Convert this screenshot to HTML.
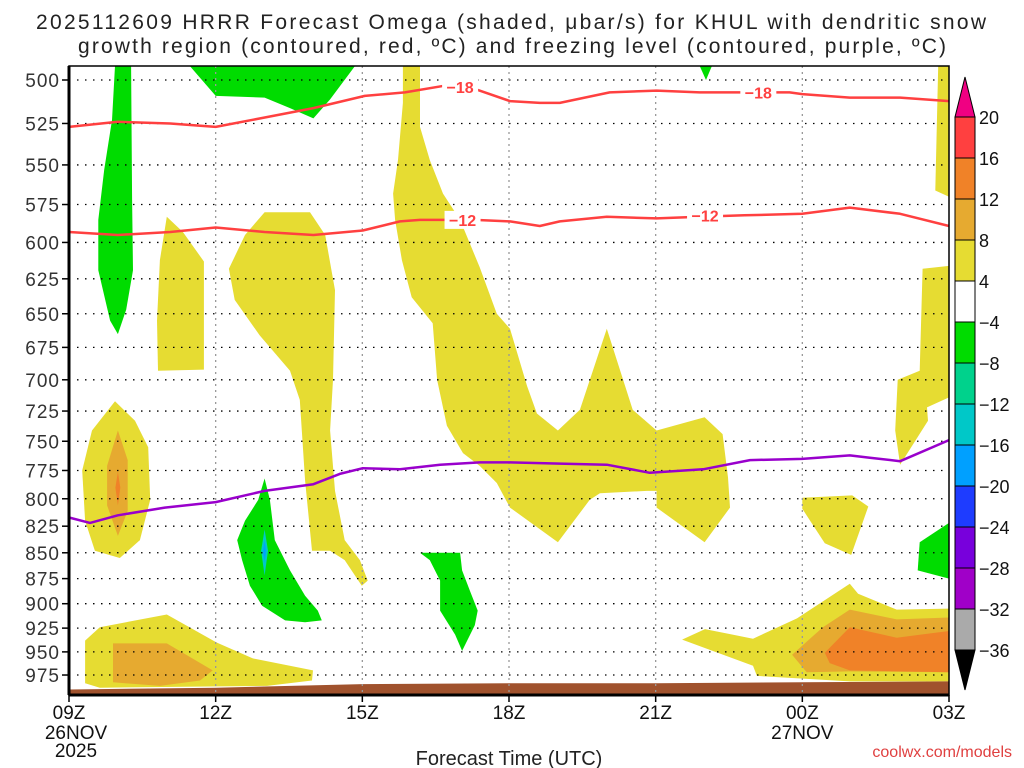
<!DOCTYPE html>
<html><head><meta charset="utf-8"><style>
html,body{margin:0;padding:0;background:#fff;width:1024px;height:768px;overflow:hidden}
svg{display:block;font-family:"Liberation Sans","DejaVu Sans",sans-serif}
</style></head><body>
<svg id="chart" width="1024" height="768" viewBox="0 0 1024 768">
<g>
<text x="36" y="29" font-size="21" textLength="950" fill="#222">2025112609 HRRR Forecast Omega (shaded, μbar/s) for KHUL with dendritic snow</text>
<text x="78" y="53" font-size="21" textLength="868" fill="#222">growth region (contoured, red, ºC) and freezing level (contoured, purple, ºC)</text>
</g>
<g id="fills"></g>
<g id="grid"></g>
<g id="lines"></g>
<g id="axes"></g>
<g id="cbar"></g>
<text x="509" y="765" font-size="20" text-anchor="middle" fill="#222">Forecast Time (UTC)</text>
<text x="1012" y="757" font-size="16" text-anchor="end" fill="#e04040">coolwx.com/models</text>
</svg>
<script>
// ---- data ----
const pressureTicks=[500,525,550,575,600,625,650,675,700,725,750,775,800,825,850,875,900,925,950,975];
const timeTickHours=[0,3,6,9,12,15,18];
const timeTickLabels=["09Z","12Z","15Z","18Z","21Z","00Z","03Z"];
const cbarLevels=[20,16,12,8,4,-4,-8,-12,-16,-20,-24,-28,-32,-36];
const cbarColors=["#ff4040","#f08228","#e6aa30","#e6dc32","#ffffff","#00dc00","#00d28c","#00c8c8","#00a0ff","#1e3cff","#7800dc","#a000c8","#aaaaaa"];
// shaded areas: [hour since 09Z, hPa]
const greenCol=[[0.94,492],[1.27,492],[1.29,572],[1.31,619],[1.17,647],[1.0,665],[0.84,655],[0.6,619],[0.6,585],[0.72,553],[0.88,523]];
const greenTop=[[2.47,490],[3.0,509],[4.0,510],[4.52,516],[5.0,522],[5.34,511],[5.85,490]];
const greenTiny=[[12.9,490],[13.15,490],[13.03,500]];
const yellowSmall=[[2.0,583],[2.33,593],[2.76,613],[2.76,692],[1.82,693],[1.8,655],[1.86,612]];
const yellowMidLeft=[[3.27,618],[3.6,595],[4.0,580],[4.93,580],[5.24,595],[5.44,633],[5.4,700],[5.34,741],[5.44,793],[5.64,838],[5.95,857],[6.11,877],[5.99,882],[5.64,857],[5.34,848],[4.97,848],[4.83,784],[4.72,716],[4.52,693],[3.9,666],[3.39,640]];
const yellowCentral=[[6.83,490],[6.83,513],[6.73,547],[6.63,568],[6.67,585],[6.81,612],[7.01,638],[7.44,657],[7.53,700],[7.73,737],[8.06,760],[8.4,771],[8.75,786],[9.02,808],[10.0,840],[10.65,801],[10.86,795],[11.82,793],[12.02,793],[12.02,808],[13.0,840],[13.52,808],[13.48,781],[13.37,744],[13.0,730],[12.02,741],[11.53,724],[11.0,661],[10.45,724],[10.0,741],[9.57,727],[9.37,705],[9.02,661],[8.75,650],[8.4,617],[8.0,585],[7.65,568],[7.38,547],[7.18,527],[7.18,490]];
const yellowMidnight=[[15.0,799],[16.02,797],[16.35,807],[16.0,852],[15.46,841],[15.0,809]];
const yellowRightTop=[[17.78,490],[18,490],[18,570],[17.72,566]];
const yellowRightMid=[[17.46,618],[18,616],[18,714],[17.55,722],[17.57,733],[17.0,770],[16.9,741],[16.95,700],[17.4,693]];
const greenRight=[[18,822],[17.4,840],[17.36,867],[18,875]];
const greenMid=[[7.18,850],[8.0,850],[8.04,867],[8.2,887],[8.36,907],[8.3,922],[8.04,949],[7.9,932],[7.59,907],[7.59,877],[7.38,857]];
const green13z=[[4.0,782],[4.11,801],[4.21,838],[4.52,867],[4.83,892],[5.09,907],[5.17,917],[4.83,919],[4.42,917],[3.95,902],[3.7,882],[3.54,857],[3.44,838],[3.6,820],[3.87,801]];
const cyanSpot=[[4.0,828],[4.07,848],[4.0,872],[3.93,848]];
const blueSpot=[[4.0,838],[4.03,848],[4.0,860],[3.97,848]];
const yellowLeft=[[0.94,717],[1.35,733],[1.62,755],[1.66,801],[1.45,838],[1.04,855],[0.53,848],[0.33,820],[0.27,775],[0.47,741]];
const orangeLeft=[[1.0,741],[1.2,766],[1.2,811],[1.0,834],[0.78,806],[0.78,771]];
const redLeft=[[1.0,776],[1.05,790],[1.0,806],[0.95,790]];
const yellowBL=[[0.33,938],[0.63,924],[2.0,911],[3.02,940],[3.76,957],[4.99,970],[4.97,981],[4.05,987],[0.63,989],[0.33,984]];
const orangeBL=[[0.9,941],[2.0,941],[2.94,970],[2.68,981],[1.86,987],[0.9,983]];
const yellowBR=[[12.54,937],[13.01,926],[13.99,936],[14.89,915],[15.97,880],[16.14,890],[16.93,906],[18,905],[18,982],[15.97,982],[14.07,976],[13.99,965]];
const orangeBR=[[14.79,953],[15.42,924],[15.97,906],[16.93,916],[18,914],[18,972],[15.97,971],[15.09,972]];
const red2BR=[[15.46,951],[15.97,924],[16.93,935],[18,928],[18,972],[15.97,970],[15.56,962]];
// terrain
const sfcHours=[0,3,6,9,12,15,18];
const sfcPressure=[991,989,985,984,984,983,982];
// contour lines
const m18Hours=[0,1,2.07,3,3.91,5,6.05,6.87,7.73,8.3,9.02,9.63,10.04,11.06,12.02,12.9,13.82,14.74,15,15.97,17,18];
const m18Press=[527,524,525,527,522,516,509,507,503,505,512,513,513,507,506,507,507,507,508,510,510,512];
const m12Hours=[0,1,2.07,3,4,5,6.01,6.77,7.18,7.69,8.3,9.02,9.63,10.04,11.0,12.02,12.9,13.82,15,15.97,17,18];
const m12Press=[593,595,593,590,593,595,592,586,585,585,585,586,589,586,583,584,583,582,581,577,581,589];
const fzHours=[0,0.43,1.0,1.96,3,4,5,5.54,6.01,6.77,7.59,8.4,9.02,10.04,11.0,11.88,12.97,13.93,15,15.97,16.38,17,18];
const fzPress=[817,822,815,808,803,793,787,778,773,774,770,768,768,769,770,777,774,766,765,762,764,767,749];

// ---- axes ----
const X0=69,X1=949,YT=66,YB=695;
const lnTop=Math.log(500);
const x=h=>X0+h*(X1-X0)/18;
const y=p=>80+(Math.log(p)-lnTop)/0.6678*595;
const NS="http://www.w3.org/2000/svg";
function mk(tag,attrs,parent){const e=document.createElementNS(NS,tag);for(const k in attrs)e.setAttribute(k,attrs[k]);parent.appendChild(e);return e;}
const clipY=v=>Math.max(YT,Math.min(YB,v));
const pts=a=>a.map(d=>x(d[0]).toFixed(1)+","+clipY(y(d[1])).toFixed(1)).join(" ");

const fills=document.getElementById('fills');
const shapes=[
 [greenCol,"#00dc00","green-omega-column"],[greenTop,"#00dc00","green-omega-top"],[greenTiny,"#00dc00","green-omega-tiny"],
 [yellowSmall,"#e6dc32","yellow-omega-small"],[yellowMidLeft,"#e6dc32","yellow-omega-midleft"],[yellowCentral,"#e6dc32","yellow-omega-central"],
 [yellowMidnight,"#e6dc32","yellow-omega-midnight"],[yellowRightTop,"#e6dc32","yellow-omega-right-top"],[yellowRightMid,"#e6dc32","yellow-omega-right-mid"],
 [greenRight,"#00dc00","green-omega-right"],[greenMid,"#00dc00","green-omega-mid"],[green13z,"#00dc00","green-omega-13z"],
 [cyanSpot,"#00c8c8","cyan-omega-spot"],[blueSpot,"#00a0ff","blue-omega-spot"],
 [yellowLeft,"#e6dc32","yellow-omega-left"],[orangeLeft,"#e6aa30","orange-omega-left"],[redLeft,"#f08228","darkorange-omega-left"],
 [yellowBL,"#e6dc32","yellow-omega-bottom-left"],[orangeBL,"#e6aa30","orange-omega-bottom-left"],
 [yellowBR,"#e6dc32","yellow-omega-bottom-right"],[orangeBR,"#e6aa30","orange-omega-bottom-right"],[red2BR,"#f08228","darkorange-omega-bottom-right"]
];
shapes.forEach(s=>{
 const e=mk('polygon',{points:pts(s[0]),fill:s[1]},fills);
 
 
});
// terrain
{
 const tp=sfcHours.map((h,i)=>[h,sfcPressure[i]]);
 const e=mk('polygon',{points:pts(tp)+" "+x(18)+","+YB+" "+x(0)+","+YB,fill:"#a0522d"},fills);
 
 
}
// grid
const grid=document.getElementById('grid');
pressureTicks.forEach(p=>{
 const e=mk('line',{x1:X0,x2:X1,y1:y(p),y2:y(p),stroke:"#000","stroke-width":1.3,"stroke-dasharray":"1.5,6.5"},grid);
 
 
});
timeTickHours.slice(1,6).forEach(h=>{
 const e=mk('line',{x1:x(h),x2:x(h),y1:YT,y2:YB,stroke:"#999","stroke-width":1.3,"stroke-dasharray":"2,4"},grid);
 
 
});
// lines
const lines=document.getElementById('lines');
function drawLine(hs,ps,color,name){
 const e=mk('polyline',{points:pts(hs.map((h,i)=>[h,ps[i]])),fill:"none",stroke:color,"stroke-width":2.5,"stroke-linejoin":"round"},lines);
 
 
}
drawLine(m18Hours,m18Press,"#ff4040","contour-minus-18");
drawLine(m12Hours,m12Press,"#ff4040","contour-minus-12");
drawLine(fzHours,fzPress,"#9900cc","freezing-level");
[[8.0,504,"−18"],[14.1,507,"−18"],[8.05,585,"−12"],[13.01,582,"−12"]].forEach(l=>{
 const r=mk('rect',{x:x(l[0])-18,y:y(l[1])-9,width:36,height:18,fill:"#fff"},lines);
 
 
 const t=mk('text',{x:x(l[0]),y:y(l[1])+6,"font-size":16,"font-weight":"bold","text-anchor":"middle",fill:"#ff4040"},lines);
 t.textContent=l[2];
 
 
});
// axes
const axes=document.getElementById('axes');
{
 const f=mk('rect',{x:X0,y:YT,width:X1-X0,height:YB-YT,fill:"none",stroke:"#000","stroke-width":1.5},axes);
 
 
 const l=mk('line',{x1:X0,x2:X0,y1:YT,y2:YB,stroke:"#000","stroke-width":3},axes);
 
 
 const b=mk('line',{x1:X0,x2:X1,y1:YB,y2:YB,stroke:"#000","stroke-width":3},axes);
 
 
}
pressureTicks.forEach(p=>{
 const tk=mk('line',{x1:X0-7,x2:X0,y1:y(p),y2:y(p),stroke:"#000","stroke-width":1.5},axes);
 
 
 const t=mk('text',{x:X0-9,y:y(p)+7,"font-size":19,"text-anchor":"end",fill:"#333","letter-spacing":"1"},axes);
 t.textContent=p;
 
 
});
timeTickHours.forEach((h,i)=>{
 const tk=mk('line',{x1:x(h),x2:x(h),y1:YB,y2:YB+7,stroke:"#000","stroke-width":1.5},axes);
 
 
 const t=mk('text',{x:x(h),y:YB+24,"font-size":19,"text-anchor":"middle",fill:"#111"},axes);
 t.textContent=timeTickLabels[i];
 
 
});
[[0,"26NOV",739],[0,"2025",757],[15,"27NOV",739]].forEach(d=>{
 const t=mk('text',{x:x(d[0])+(d[0]===0?7:0),y:d[2],"font-size":19,"text-anchor":"middle",fill:"#111"},axes);
 t.textContent=d[1];
 
 
});
// colorbar
const cb=document.getElementById('cbar');
const CX=955,CW=20,CT=117,CH=41;
{
 const t=mk('polygon',{points:`${CX},${CT} ${CX+CW},${CT} ${CX+CW/2},${CT-40}`,fill:"#f00082",stroke:"#000","stroke-width":1},cb);
 
 
 const yb=CT+CH*cbarColors.length;
 const b=mk('polygon',{points:`${CX},${yb} ${CX+CW},${yb} ${CX+CW/2},${yb+40}`,fill:"#000",stroke:"#000","stroke-width":1},cb);
 
 
}
cbarColors.forEach((c,i)=>{
 const r=mk('rect',{x:CX,y:CT+i*CH,width:CW,height:CH,fill:c,stroke:"#000","stroke-width":1},cb);
 
 
});
cbarLevels.forEach((v,i)=>{
 const t=mk('text',{x:979,y:CT+i*CH+7,"font-size":18,fill:"#111"},cb);
 t.textContent=v<0?"−"+(-v):String(v);
 
 
});
</script>
</body></html>
